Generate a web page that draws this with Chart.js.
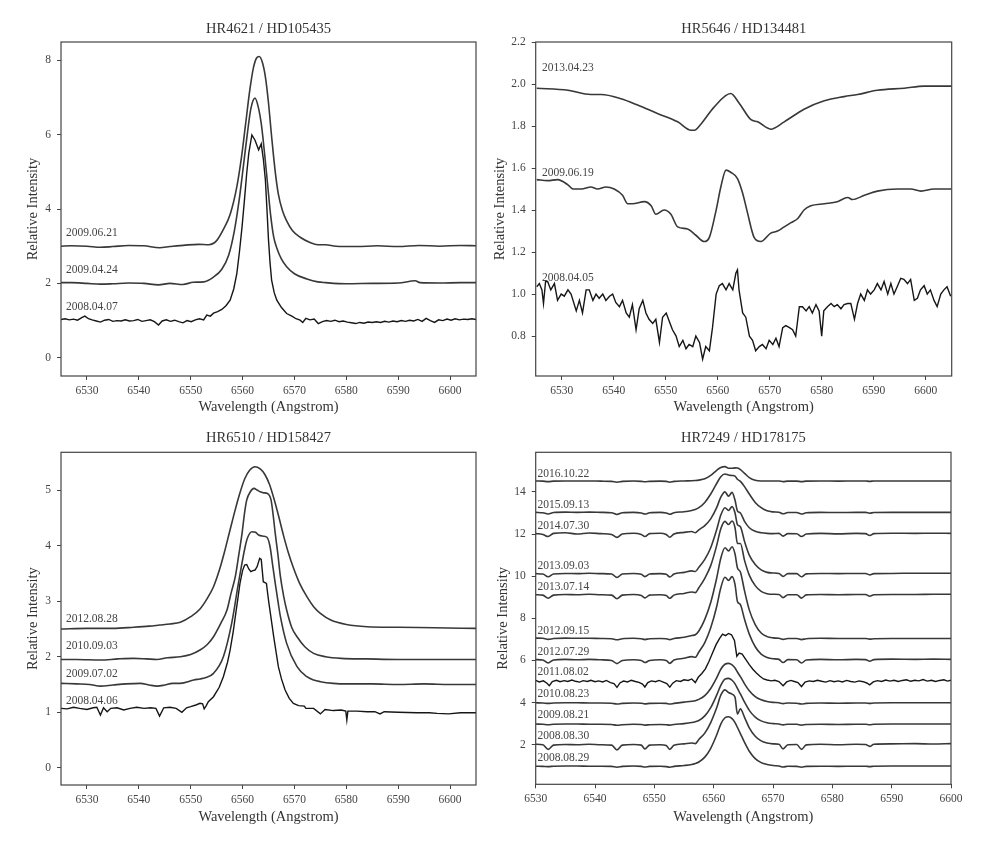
<!DOCTYPE html>
<html>
<head>
<meta charset="utf-8">
<script src="https://cdn.jsdelivr.net/npm/chart.js@4.4.1/dist/chart.umd.min.js"></script>
<style>
    html, body { margin: 0; padding: 0; background: #fff; }
    #wrap { position: relative; width: 983px; height: 848px; overflow: hidden; background: #fff; }
    canvas { position: absolute; }
</style>
</head>
<body>
<div id="wrap">
    <canvas id="hr4621" width="490" height="420" style="left:0px;top:0px"></canvas>
    <canvas id="hr5646" width="493" height="420" style="left:490px;top:0px"></canvas>
    <canvas id="hr6510" width="490" height="428" style="left:0px;top:420px"></canvas>
    <canvas id="hr7249" width="493" height="428" style="left:490px;top:420px"></canvas>
</div>
<script>
// =======================
// DATA
// =======================

// --- HR4621 / HD105435 ---
const p1Wave090621 = [6525, 6527, 6530, 6532.6, 6535, 6538, 6541, 6544, 6546, 6549,
    6551.5, 6553.5, 6555.0, 6556.3, 6557.6, 6558.9, 6559.8, 6560.6, 6561.4, 6562.1,
    6562.7, 6563.2, 6563.8, 6564.4, 6565.0, 6565.6, 6566.3, 6566.9, 6567.7, 6568.5,
    6569.6, 6571.1, 6573.0, 6574.5, 6576, 6578, 6582, 6586, 6590, 6594,
    6598, 6602, 6605];
const p1Flux090621 = [3.00, 3.01, 3.00, 2.97, 2.99, 3.02, 3.01, 2.96, 2.99, 3.03,
    3.05, 3.04, 3.15, 3.45, 3.85, 4.60, 5.40, 6.30, 7.20, 7.80,
    8.06, 8.10, 7.95, 7.55, 6.85, 5.95, 5.00, 4.40, 3.95, 3.68,
    3.42, 3.24, 3.10, 3.04, 3.04, 3.00, 2.99, 3.01, 2.99, 3.02,
    3.00, 3.02, 3.01];

const p1Wave090424 = [6525, 6527, 6530, 6532.6, 6535, 6538, 6541, 6543.8, 6546, 6548.5,
    6550.5, 6552.5, 6554.4, 6556, 6557.3, 6558.4, 6559.4, 6560.2, 6560.9, 6561.6,
    6562.4, 6563.1, 6563.6, 6564.2, 6564.8, 6565.4, 6566.0, 6566.6, 6567.5, 6568.5,
    6570, 6572.4, 6574.5, 6576, 6580, 6585, 6590, 6593.3, 6594.2, 6598,
    6602, 6605];
const p1Flux090424 = [2.02, 2.02, 2.00, 1.98, 1.99, 2.01, 2.00, 1.96, 2.00, 1.97,
    2.03, 2.04, 2.17, 2.38, 2.75, 3.40, 4.30, 5.20, 6.00, 6.70,
    6.98, 6.70, 6.30, 5.55, 4.70, 3.85, 3.25, 2.95, 2.65, 2.45,
    2.26, 2.12, 2.04, 2.02, 1.99, 2.00, 2.01, 2.07, 2.02, 2.01,
    2.02, 2.02];

const p1Wave080407 = [6525, 6525.8, 6526.6, 6527.4, 6528.2, 6529.0, 6529.6, 6530.3, 6531.0, 6531.8,
    6532.6, 6533.4, 6534.2, 6535.0, 6535.8, 6536.6, 6537.4, 6538.2, 6539.0, 6539.8,
    6540.6, 6541.4, 6542.2, 6543.0, 6543.8, 6544.5, 6545.3, 6546.1, 6546.9, 6547.7,
    6548.5, 6549.3, 6550.1, 6550.9, 6551.7, 6552.5, 6553.1, 6553.8, 6554.4, 6555.2,
    6556.0, 6556.8, 6557.6, 6558.3, 6558.9, 6559.4, 6559.9, 6560.4, 6560.8, 6561.2,
    6561.8, 6562.4, 6563.1, 6563.6, 6564.0, 6564.4, 6564.7, 6565.0, 6565.3, 6565.6,
    6566.1, 6566.6, 6567.5, 6568.5, 6569.5, 6570.3, 6571.1, 6571.6, 6572.2, 6573.0,
    6573.8, 6574.6, 6575.4, 6576.2, 6577.0, 6577.8, 6578.6, 6579.4, 6580.2, 6581.0,
    6581.8, 6582.6, 6583.4, 6584.2, 6585.0, 6585.8, 6586.6, 6587.4, 6588.2, 6589.0,
    6589.8, 6590.6, 6591.4, 6592.2, 6593.0, 6593.8, 6594.6, 6595.4, 6596.2, 6597.0,
    6597.8, 6598.6, 6599.4, 6600.2, 6601.0, 6601.8, 6602.6, 6603.4, 6604.2, 6605.0];
const p1Flux080407 = [1.03, 1.05, 1.02, 1.04, 1.01, 1.08, 1.12, 1.05, 1.02, 0.99,
    0.96, 1.01, 1.03, 0.98, 1.00, 0.99, 1.02, 0.99, 1.00, 1.03,
    0.98, 1.00, 1.02, 0.97, 0.88, 0.99, 1.02, 0.98, 1.01, 0.97,
    0.94, 1.00, 0.97, 1.02, 1.05, 1.02, 1.15, 1.12, 1.20, 1.24,
    1.30, 1.40, 1.55, 1.85, 2.27, 2.85, 3.52, 4.30, 4.96, 5.50,
    5.99, 5.85, 5.59, 5.75, 5.35, 4.78, 4.00, 3.17, 2.55, 2.09,
    1.75, 1.55, 1.35, 1.19, 1.12, 1.05, 1.01, 0.95, 1.06, 1.02,
    1.04, 0.92, 0.97, 1.00, 0.98, 1.01, 0.97, 0.99, 0.96, 0.94,
    0.92, 0.95, 0.93, 0.96, 0.95, 0.97, 0.95, 0.98, 0.96, 0.99,
    0.97, 1.00, 0.98, 1.01, 0.99, 1.03, 0.98, 1.06, 1.00, 0.95,
    1.02, 1.00, 1.04, 1.01, 1.05, 1.02, 1.04, 1.03, 1.05, 1.03];

const p1Dates = ['2009.06.21', '2009.04.24', '2008.04.07'];
const p1DateY = [3.35, 2.36, 1.37];
const p1YTicks = [0, 2, 4, 6, 8];

// --- HR5646 / HD134481 ---
const p2Wave130423 = [6525.2, 6531.2, 6535.6, 6537.6, 6541.4, 6544.6, 6548.4, 6552.3, 6554.9, 6555.5,
    6556.8, 6559.3, 6562.5, 6564.1, 6566.4, 6567.7, 6570.2, 6572.8, 6576.6, 6580.5,
    6584.3, 6586.9, 6590.7, 6595.9, 6599.7, 6605];
const p2Flux130423 = [1.98, 1.97, 1.95, 1.95, 1.93, 1.90, 1.86, 1.82, 1.78, 1.78,
    1.81, 1.89, 1.955, 1.91, 1.83, 1.82, 1.785, 1.82, 1.88, 1.92,
    1.94, 1.95, 1.97, 1.98, 1.99, 1.99];

const p2Wave090619 = [6525.2, 6527.3, 6529.2, 6531.2, 6532.2, 6533.8, 6535.6, 6536.9, 6538.5, 6540.1,
    6541.7, 6542.7, 6543.6, 6545.9, 6547.2, 6548.1, 6549.7, 6551.0, 6552.3, 6554.2,
    6555.8, 6557.4, 6558.4, 6559.7, 6560.6, 6561.6, 6562.5, 6563.8, 6564.8, 6565.7,
    6567.0, 6568.3, 6570.2, 6571.5, 6572.8, 6574.1, 6575.4, 6576.6, 6577.9, 6580.5,
    6583.0, 6585.0, 6585.9, 6588.2, 6590.7, 6594.6, 6597.1, 6599.1, 6601.6, 6605];
const p2Flux090619 = [1.545, 1.54, 1.545, 1.52, 1.50, 1.50, 1.51, 1.50, 1.51, 1.50,
    1.47, 1.43, 1.43, 1.44, 1.42, 1.38, 1.40, 1.38, 1.32, 1.31,
    1.28, 1.25, 1.27, 1.40, 1.51, 1.59, 1.58, 1.55, 1.48, 1.39,
    1.27, 1.25, 1.29, 1.30, 1.32, 1.34, 1.36, 1.40, 1.42, 1.43,
    1.44, 1.46, 1.45, 1.47, 1.49, 1.50, 1.50, 1.49, 1.50, 1.50];

const p2Wave080405 = [6525.2, 6525.7, 6526.2, 6526.5, 6526.9, 6527.3, 6527.9, 6528.6, 6529.2, 6529.9,
    6530.5, 6531.2, 6531.8, 6532.8, 6533.4, 6534.0, 6534.7, 6535.3, 6536.0, 6536.6,
    6537.2, 6537.9, 6538.5, 6539.2, 6539.8, 6540.4, 6541.1, 6541.7, 6542.4, 6543.0,
    6543.6, 6544.3, 6544.9, 6545.6, 6546.2, 6546.8, 6547.5, 6548.1, 6548.8, 6549.4,
    6550.1, 6550.7, 6551.3, 6552.0, 6552.6, 6553.3, 6553.9, 6554.5, 6555.2, 6555.8,
    6556.5, 6557.1, 6557.7, 6558.4, 6559.0, 6559.7, 6560.3, 6560.9, 6561.6, 6562.2,
    6562.9, 6563.5, 6563.8, 6564.1, 6564.8, 6565.4, 6566.1, 6566.7, 6567.3, 6568.0,
    6568.6, 6569.3, 6569.9, 6570.6, 6571.2, 6571.8, 6572.5, 6573.1, 6573.8, 6574.4,
    6575.0, 6575.7, 6576.3, 6577.0, 6577.6, 6578.2, 6578.9, 6579.5, 6580.0, 6580.4,
    6581.1, 6581.8, 6582.4, 6583.0, 6583.7, 6584.3, 6585.0, 6585.6, 6586.3, 6586.9,
    6587.5, 6588.2, 6588.8, 6589.4, 6590.1, 6590.7, 6591.4, 6592.0, 6592.7, 6593.3,
    6593.9, 6594.6, 6595.2, 6595.8, 6596.5, 6597.1, 6597.8, 6598.4, 6599.0, 6599.7,
    6600.3, 6600.9, 6601.6, 6602.2, 6602.9, 6603.5, 6604.1, 6604.8];
const p2Flux080405 = [1.035, 1.05, 1.02, 0.955, 1.06, 1.06, 1.02, 1.05, 0.97, 1.00,
    0.99, 1.02, 1.00, 0.92, 0.97, 0.91, 1.02, 1.02, 0.97, 1.00,
    0.98, 1.00, 0.97, 0.99, 1.00, 0.96, 0.94, 0.97, 0.91, 0.89,
    0.95, 0.83, 0.93, 0.97, 0.91, 0.88, 0.86, 0.88, 0.77, 0.89,
    0.91, 0.87, 0.83, 0.80, 0.75, 0.78, 0.74, 0.76, 0.75, 0.80,
    0.77, 0.69, 0.75, 0.73, 0.84, 1.00, 1.04, 1.05, 1.02, 1.05,
    1.02, 1.10, 1.115, 1.02, 0.91, 0.89, 0.80, 0.78, 0.73, 0.75,
    0.76, 0.74, 0.78, 0.76, 0.79, 0.75, 0.84, 0.85, 0.84, 0.83,
    0.80, 0.94, 0.94, 0.92, 0.94, 0.91, 0.95, 0.92, 0.80, 0.92,
    0.94, 0.955, 0.94, 0.95, 0.93, 0.95, 0.955, 0.955, 0.88, 0.955,
    1.00, 0.97, 1.02, 1.00, 1.02, 1.05, 1.02, 1.06, 1.00, 1.05,
    1.00, 1.04, 1.075, 1.07, 1.05, 1.07, 0.97, 0.98, 1.02, 1.04,
    1.00, 1.02, 0.97, 0.94, 1.00, 1.02, 1.035, 0.99];

const p2Dates = ['2013.04.23', '2009.06.19', '2008.04.05'];
const p2DateY = [2.078, 1.577, 1.078];
const p2YTicks = [0.8, 1.0, 1.2, 1.4, 1.6, 1.8, 2.0, 2.2];

// --- HR6510 / HD158427 ---
const p3Wave120828 = [6525, 6530, 6535, 6539, 6542, 6544, 6546, 6548, 6550, 6551.8,
    6553.2, 6554.4, 6555.5, 6556.5, 6557.5, 6558.4, 6559.4, 6560.4, 6561.4, 6562.4,
    6563.4, 6564.3, 6565.2, 6566.0, 6566.9, 6567.9, 6568.8, 6569.8, 6571.0, 6572.4,
    6573.7, 6575.0, 6577.0, 6580.0, 6584.0, 6590.0, 6597.0, 6605.0];
const p3Flux120828 = [2.50, 2.51, 2.51, 2.53, 2.55, 2.57, 2.59, 2.62, 2.72, 2.86,
    3.05, 3.26, 3.55, 3.88, 4.25, 4.58, 4.92, 5.20, 5.36, 5.42,
    5.38, 5.28, 5.10, 4.86, 4.55, 4.18, 3.88, 3.60, 3.32, 3.08,
    2.90, 2.78, 2.66, 2.58, 2.54, 2.53, 2.52, 2.51];

const p3Wave100903 = [6525, 6528, 6532.6, 6536, 6539, 6541.5, 6543.5, 6545.5, 6548, 6550,
    6551.8, 6553.2, 6554.4, 6555.8, 6557.0, 6557.8, 6558.6, 6559.3, 6559.9, 6560.4,
    6560.8, 6561.5, 6562.2, 6562.8, 6563.4, 6564.1, 6564.8, 6565.5, 6565.9, 6566.3,
    6566.8, 6567.3, 6567.9, 6568.5, 6569.5, 6570.5, 6572.0, 6573.7, 6576.0, 6579.0,
    6584, 6590, 6597, 6605];
const p3Flux100903 = [1.95, 1.95, 1.94, 1.96, 1.97, 1.96, 1.95, 1.98, 2.00, 2.04,
    2.12, 2.22, 2.36, 2.60, 2.84, 3.15, 3.44, 3.85, 4.22, 4.60,
    4.82, 4.97, 5.03, 5.00, 4.97, 4.95, 4.94, 4.82, 4.55, 4.22,
    3.85, 3.44, 3.10, 2.84, 2.52, 2.36, 2.18, 2.06, 2.00, 1.97,
    1.96, 1.95, 1.95, 1.95];

const p3Wave090702 = [6525, 6528, 6530.5, 6532.6, 6535, 6537.5, 6540.3, 6542, 6543.5, 6545,
    6546.5, 6548, 6550.6, 6551.8, 6552.8, 6554.4, 6556.3, 6557.9, 6559.2, 6560.5,
    6561.0, 6561.8, 6562.5, 6563.1, 6564.0, 6564.7, 6565.3, 6565.8, 6566.3, 6566.9,
    6567.3, 6568.5, 6570.5, 6572.4, 6573.7, 6575.0, 6577.5, 6580, 6585, 6590,
    6595, 6600, 6605];
const p3Flux090702 = [1.52, 1.51, 1.50, 1.47, 1.49, 1.51, 1.52, 1.49, 1.47, 1.49,
    1.52, 1.52, 1.58, 1.60, 1.62, 1.70, 2.00, 2.60, 3.32, 3.98,
    4.15, 4.25, 4.24, 4.19, 4.17, 4.15, 3.98, 3.65, 3.32, 2.95,
    2.72, 2.24, 1.82, 1.64, 1.58, 1.55, 1.52, 1.51, 1.51, 1.50,
    1.51, 1.50, 1.50];

const p3Wave080406 = [6525, 6526.2, 6527.4, 6528.6, 6530, 6531.2, 6531.9, 6532.6, 6533.2, 6533.9,
    6534.6, 6535.8, 6537.1, 6538.3, 6539.6, 6541, 6542.3, 6543.3, 6544.0, 6544.8,
    6546, 6547.2, 6548.3, 6549.2, 6550, 6551, 6551.8, 6552.3, 6552.6, 6553.0,
    6553.4, 6554.4, 6555.5, 6556.3, 6557.1, 6557.6, 6558.2, 6558.6, 6559.1, 6559.5,
    6560.0, 6560.4, 6560.8, 6561.2, 6561.6, 6562.0, 6562.4, 6562.8, 6563.3, 6563.6,
    6563.8, 6564.0, 6564.4, 6564.6, 6565.0, 6566.0, 6566.9, 6567.5, 6568.2, 6569.0,
    6569.8, 6570.8, 6571.9, 6572.2, 6572.8, 6573.7, 6575.0, 6575.9, 6577.5, 6579,
    6579.9, 6580.1, 6580.3, 6582, 6584, 6585.5, 6586.5, 6587.3, 6590, 6593.6,
    6596, 6597.5, 6599.7, 6602, 6605];
const p3Flux080406 = [1.07, 1.06, 1.09, 1.07, 1.05, 1.08, 1.09, 0.95, 1.08, 1.01,
    1.07, 1.08, 1.04, 1.07, 1.09, 1.07, 1.08, 1.07, 0.93, 1.08,
    1.09, 1.07, 1.00, 1.08, 1.10, 1.13, 1.16, 1.15, 1.06, 1.12,
    1.19, 1.28, 1.45, 1.64, 1.90, 2.12, 2.45, 2.72, 3.05, 3.32,
    3.55, 3.65, 3.66, 3.58, 3.53, 3.55, 3.56, 3.62, 3.77, 3.75,
    3.55, 3.35, 3.33, 3.32, 3.02, 2.36, 1.82, 1.60, 1.40, 1.25,
    1.16, 1.12, 1.11, 1.07, 1.07, 1.07, 0.97, 1.05, 1.03, 1.04,
    1.02, 0.86, 1.02, 1.02, 1.01, 1.01, 0.97, 1.01, 1.00, 0.99,
    0.99, 0.98, 0.97, 0.99, 0.99];

const p3Dates = ['2012.08.28', '2010.09.03', '2009.07.02', '2008.04.06'];
const p3DateY = [2.68, 2.2, 1.68, 1.2];
const p3YTicks = [0, 1, 2, 3, 4, 5];

// --- HR7249 / HD178175 --- (shared wavelength grid)
const p4Wave = [6530, 6531.2, 6532.1, 6533, 6535, 6537, 6539, 6541, 6542.8, 6543.7,
    6544.6, 6546.5, 6547.8, 6548.4, 6549.2, 6551, 6552, 6552.6, 6553.3, 6555,
    6556.3, 6556.9, 6557.5, 6558.5, 6559.5, 6560.5, 6561.2, 6561.9, 6562.5, 6563.1,
    6563.6, 6564, 6564.5, 6565.2, 6566, 6567, 6568, 6569, 6570, 6571,
    6571.7, 6572.5, 6574, 6574.8, 6575.6, 6578, 6581, 6584, 6585.6, 6586.3,
    6587, 6590, 6594, 6597, 6600];

const p4Flux080829 = [0.98, 0.97, 0.96, 0.98, 0.99, 0.99, 0.98, 0.98, 0.97, 0.93,
    0.97, 0.99, 0.97, 0.94, 0.97, 0.98, 0.96, 0.93, 0.97, 1.01,
    1.06, 1.11, 1.18, 1.41, 1.83, 2.46, 2.98, 3.28, 3.33, 3.24,
    3.05, 2.82, 2.53, 2.11, 1.69, 1.34, 1.15, 1.06, 1.01, 0.99,
    0.94, 0.98, 0.97, 0.93, 0.97, 0.98, 0.97, 0.98, 0.98, 0.96,
    0.98, 0.99, 0.99, 0.99, 0.99];
const p4Flux080830 = [2.02, 2.00, 1.78, 1.98, 2.01, 2.00, 2.02, 2.00, 1.98, 1.75,
    1.98, 2.01, 1.98, 1.80, 1.98, 2.00, 1.96, 1.78, 1.97, 2.04,
    2.08, 2.05, 2.25, 2.55, 3.05, 3.75, 4.35, 4.60, 4.48, 4.40,
    4.25, 3.45, 3.70, 3.30, 2.80, 2.40, 2.18, 2.08, 2.04, 2.02,
    1.80, 2.00, 2.01, 1.78, 1.99, 2.02, 2.00, 2.02, 2.01, 1.92,
    2.02, 2.04, 2.05, 2.03, 2.05];
const p4Flux090821 = [2.98, 2.97, 2.95, 2.97, 2.98, 2.98, 2.97, 2.97, 2.96, 2.92,
    2.95, 2.97, 2.96, 2.93, 2.95, 2.96, 2.95, 2.93, 2.96, 3.00,
    3.05, 3.09, 3.15, 3.37, 3.76, 4.35, 4.82, 5.11, 5.15, 5.06,
    4.89, 4.67, 4.41, 4.02, 3.63, 3.31, 3.13, 3.04, 3.00, 2.98,
    2.94, 2.97, 2.97, 2.93, 2.96, 2.97, 2.96, 2.97, 2.97, 2.95,
    2.97, 2.98, 2.98, 2.98, 2.98];
const p4Flux100823 = [3.99, 3.98, 3.96, 3.98, 3.99, 3.99, 3.98, 3.98, 3.97, 3.93,
    3.96, 3.98, 3.97, 3.94, 3.96, 3.97, 3.96, 3.93, 3.96, 4.02,
    4.06, 4.09, 4.15, 4.33, 4.67, 5.17, 5.58, 5.82, 5.86, 5.79,
    5.64, 5.45, 5.23, 4.89, 4.56, 4.28, 4.13, 4.05, 4.01, 3.99,
    3.95, 3.98, 3.97, 3.93, 3.96, 3.98, 3.97, 3.98, 3.98, 3.96,
    3.98, 3.99, 3.99, 3.99, 3.99];
const p4Flux120729 = [6.04, 6.02, 5.88, 6.02, 6.05, 6.03, 6.05, 6.03, 6.00, 5.85,
    6.00, 6.03, 6.00, 5.90, 6.00, 6.03, 6.00, 5.86, 6.02, 6.10,
    6.18, 6.15, 6.40, 6.85, 7.55, 8.55, 9.45, 9.95, 9.80, 9.98,
    9.60, 8.80, 8.65, 7.95, 7.25, 6.65, 6.30, 6.14, 6.08, 6.05,
    5.90, 6.04, 6.03, 5.88, 6.02, 6.05, 6.03, 6.05, 6.04, 5.96,
    6.04, 6.06, 6.05, 6.06, 6.05];
const p4Flux120915 = [7.06, 7.05, 7.00, 7.04, 7.06, 7.05, 7.05, 7.04, 7.03, 6.98,
    7.03, 7.05, 7.03, 6.99, 7.03, 7.04, 7.03, 6.99, 7.04, 7.10,
    7.18, 7.22, 7.40, 7.95, 8.75, 9.90, 10.85, 11.35, 11.20, 11.40,
    11.05, 10.40, 10.20, 9.30, 8.40, 7.70, 7.30, 7.13, 7.07, 7.05,
    7.00, 7.04, 7.04, 6.99, 7.03, 7.05, 7.04, 7.04, 7.04, 7.01,
    7.03, 7.04, 7.04, 7.04, 7.04];
const p4Flux130714 = [9.12, 9.10, 8.95, 9.10, 9.13, 9.12, 9.14, 9.12, 9.10, 8.93,
    9.10, 9.13, 9.08, 8.97, 9.10, 9.12, 9.08, 8.95, 9.10, 9.18,
    9.25, 9.22, 9.45, 9.90, 10.50, 11.45, 12.25, 12.60, 12.45, 12.62,
    12.30, 11.55, 11.55, 10.75, 10.05, 9.55, 9.28, 9.17, 9.14, 9.13,
    8.98, 9.12, 9.12, 8.96, 9.11, 9.13, 9.12, 9.13, 9.13, 9.05,
    9.12, 9.13, 9.13, 9.14, 9.14];
const p4Flux130903 = [10.12, 10.10, 9.97, 10.10, 10.13, 10.12, 10.14, 10.12, 10.10, 9.94,
    10.10, 10.13, 10.09, 9.98, 10.10, 10.12, 10.09, 9.96, 10.10, 10.18,
    10.25, 10.22, 10.42, 10.80, 11.35, 12.20, 12.90, 13.25, 13.12, 13.30,
    13.00, 12.45, 12.35, 11.65, 11.00, 10.55, 10.30, 10.18, 10.15, 10.13,
    9.99, 10.12, 10.12, 9.97, 10.11, 10.13, 10.12, 10.13, 10.13, 10.06,
    10.12, 10.13, 10.14, 10.14, 10.14];
const p4Flux140730 = [12.02, 11.98, 11.88, 12.03, 12.06, 12.00, 12.05, 12.02, 11.98, 11.84,
    12.00, 12.04, 11.98, 11.88, 12.02, 12.04, 11.98, 11.85, 12.00, 12.08,
    12.12, 12.06, 12.20, 12.40, 12.72, 13.25, 13.75, 14.00, 13.80, 13.98,
    13.60, 13.10, 13.00, 12.60, 12.30, 12.13, 12.06, 12.03, 12.02, 12.03,
    11.90, 12.02, 12.01, 11.88, 12.00, 12.03, 12.01, 12.03, 12.02, 11.93,
    12.02, 12.04, 12.03, 12.04, 12.03];
const p4Flux150913 = [13.03, 13.01, 12.95, 13.02, 13.04, 13.03, 13.04, 13.03, 13.01, 12.93,
    13.01, 13.03, 13.00, 12.95, 13.01, 13.03, 13.00, 12.94, 13.01, 13.06,
    13.12, 13.16, 13.25, 13.50, 13.90, 14.40, 14.72, 14.85, 14.80, 14.78,
    14.75, 14.60, 14.50, 14.25, 13.90, 13.50, 13.25, 13.10, 13.05, 13.03,
    12.96, 13.02, 13.02, 12.95, 13.01, 13.03, 13.02, 13.03, 13.03, 12.99,
    13.02, 13.03, 13.03, 13.03, 13.03];
const p4Flux161022 = [14.52, 14.51, 14.49, 14.51, 14.52, 14.52, 14.52, 14.51, 14.50, 14.46,
    14.50, 14.52, 14.50, 14.48, 14.50, 14.51, 14.50, 14.46, 14.50, 14.52,
    14.53, 14.54, 14.56, 14.62, 14.78, 15.02, 15.16, 15.20, 15.12, 15.12,
    15.14, 15.13, 15.06, 14.88, 14.68, 14.55, 14.52, 14.52, 14.52, 14.52,
    14.49, 14.51, 14.51, 14.49, 14.51, 14.52, 14.51, 14.52, 14.52, 14.50,
    14.52, 14.52, 14.52, 14.52, 14.52];

// the noisy 2011 spectrum has its own, denser grid
const p4Wave110802 = [6530, 6530.6, 6531.3, 6531.9, 6532.3, 6532.8, 6533.5, 6534.1, 6534.8, 6535.4,
    6536.1, 6536.7, 6537.4, 6538.0, 6538.7, 6539.3, 6540.0, 6540.6, 6541.3, 6541.9,
    6542.6, 6543.2, 6543.7, 6544.2, 6544.8, 6545.5, 6546.1, 6546.8, 6547.4, 6548.0,
    6548.4, 6548.9, 6549.5, 6550.2, 6550.8, 6551.5, 6552.1, 6552.6, 6553.1, 6553.7,
    6554.4, 6555.0, 6555.7, 6556.3, 6556.9, 6557.4, 6558.0, 6558.6, 6559.2, 6559.8,
    6560.4, 6561.0, 6561.5, 6562.0, 6562.5, 6563.0, 6563.5, 6563.9, 6564.3, 6564.8,
    6565.4, 6566.0, 6566.6, 6567.2, 6567.8, 6568.4, 6569.0, 6569.7, 6570.3, 6571.0,
    6571.7, 6572.3, 6573.0, 6573.6, 6574.2, 6574.8, 6575.4, 6576.1, 6576.8, 6577.5,
    6578.2, 6578.9, 6579.6, 6580.3, 6581.0, 6581.7, 6582.4, 6583.1, 6583.8, 6584.5,
    6585.2, 6585.8, 6586.3, 6586.9, 6587.6, 6588.3, 6589.0, 6589.7, 6590.4, 6591.1,
    6591.8, 6592.5, 6593.2, 6593.9, 6594.6, 6595.3, 6596.0, 6596.7, 6597.4, 6598.1,
    6598.8, 6599.4, 6600.0];
const p4Flux110802 = [5.05, 4.98, 5.03, 4.92, 4.80, 5.00, 5.06, 4.99, 5.04, 5.00,
    5.07, 5.01, 4.97, 5.04, 5.00, 5.06, 4.99, 5.03, 4.98, 5.05,
    4.95, 4.90, 4.72, 4.93, 5.02, 4.98, 5.06, 5.00, 4.96, 4.88,
    4.74, 4.95, 5.03, 4.99, 5.05, 4.97, 4.90, 4.73, 4.92, 5.04,
    5.00, 5.08, 5.05, 5.12, 4.95, 5.20, 5.38, 5.60, 5.95, 6.35,
    6.75, 7.05, 7.25, 7.18, 7.28, 7.22, 6.95, 6.20, 6.35, 6.30,
    6.05, 5.80, 5.58, 5.40, 5.25, 5.12, 5.07, 5.03, 5.06, 5.00,
    4.80, 4.98, 5.05, 5.00, 4.95, 4.76, 4.97, 5.03, 5.00, 5.06,
    5.01, 4.97, 5.04, 4.99, 5.03, 4.98, 5.05, 5.00, 4.97, 5.03,
    4.99, 4.93, 4.84, 4.98, 5.04, 5.00, 5.07, 5.02, 5.06, 5.00,
    5.05, 5.08, 5.01, 5.06, 5.03, 5.09, 5.02, 5.06, 5.00, 5.05,
    5.08, 5.02, 5.06];

const p4Dates = ['2016.10.22', '2015.09.13', '2014.07.30', '2013.09.03', '2013.07.14', '2012.09.15',
    '2012.07.29', '2011.08.02', '2010.08.23', '2009.08.21', '2008.08.30', '2008.08.29'];
const p4DateY = [14.85, 13.38, 12.39, 10.5, 9.5, 7.4, 6.42, 5.44, 4.39, 3.41, 2.41, 1.35];
const p4YTicks = [2, 4, 6, 8, 10, 12, 14];

const waveTicks = [6530, 6540, 6550, 6560, 6570, 6580, 6590, 6600];

// =======================
// HELPERS
// =======================
const SERIF = '"Liberation Serif", "DejaVu Serif", serif';
const INK = '#383838';

function toPoints(xs, ys) {
    return xs.map((x, i) => ({ x: x, y: ys[i] }));
}

// frame on all four sides + date labels written inside the axes
const framePlugin = {
    id: 'specFrame',
    afterDatasetsDraw(chart, args, opts) {
        const { ctx, chartArea: a, scales } = chart;
        ctx.save();
        ctx.strokeStyle = '#444';
        ctx.lineWidth = 1.2;
        ctx.strokeRect(a.left, a.top, a.right - a.left, a.bottom - a.top);
        ctx.fillStyle = '#444';
        ctx.font = '11.5px ' + SERIF;
        ctx.textBaseline = 'middle';
        ctx.textAlign = 'left';
        (opts.texts || []).forEach((t, i) => {
            ctx.fillText(t, scales.x.getPixelForValue(opts.x), scales.y.getPixelForValue(opts.ys[i]));
        });
        ctx.restore();
    }
};

function buildPanel(id, cfg) {
    const tickFont = { family: SERIF, size: 11.5 };
    const titleFont = { family: SERIF, size: 14.5, weight: 'normal', lineHeight: 1.2 };
    return new Chart(document.getElementById(id), {
        type: 'line',
        data: {
            datasets: cfg.series.map(s => ({
                data: toPoints(s.wave, s.flux),
                borderColor: s.noisy ? '#161616' : INK,
                borderWidth: s.noisy ? 1.4 : 1.6,
                pointRadius: 0,
                fill: false,
                tension: 0,
                cubicInterpolationMode: s.noisy ? 'default' : 'monotone'
            }))
        },
        options: {
            responsive: false,
            animation: false,
            devicePixelRatio: 1,
            layout: { padding: { left: 0, top: 0, right: cfg.padRight, bottom: 0 } },
            plugins: {
                legend: { display: false },
                tooltip: { enabled: false },
                title: {
                    display: true,
                    text: cfg.title,
                    fullSize: false,
                    color: '#333',
                    font: titleFont,
                    padding: cfg.titlePad
                },
                specFrame: { texts: cfg.dates, ys: cfg.dateY, x: cfg.dateX }
            },
            scales: {
                x: {
                    type: 'linear',
                    min: cfg.xMin,
                    max: cfg.xMax,
                    afterFit: s => { s.height = cfg.xAxisHeight; },
                    afterBuildTicks: s => { s.ticks = waveTicks.map(v => ({ value: v })); },
                    ticks: { font: tickFont, color: '#444', padding: 4, autoSkip: false, maxRotation: 0,
                        callback: v => String(v) },
                    grid: { drawOnChartArea: false, drawTicks: true, tickLength: 4, color: '#444' },
                    border: { display: false },
                    title: { display: true, text: 'Wavelength (Angstrom)', color: '#333', font: titleFont,
                        padding: { top: 0, bottom: cfg.xTitlePad } }
                },
                y: {
                    type: 'linear',
                    min: cfg.yMin,
                    max: cfg.yMax,
                    afterFit: s => { s.width = cfg.yAxisWidth; },
                    afterBuildTicks: s => { s.ticks = cfg.yTicks.map(v => ({ value: v })); },
                    ticks: { font: tickFont, color: '#444', padding: 6, autoSkip: false,
                        callback: v => cfg.yDecimals ? v.toFixed(cfg.yDecimals) : String(v) },
                    grid: { drawOnChartArea: false, drawTicks: true, tickLength: 4, color: '#444' },
                    border: { display: false },
                    title: { display: true, text: 'Relative Intensity', color: '#333', font: titleFont,
                        padding: { top: cfg.yTitlePad, bottom: 0 } }
                }
            }
        },
        plugins: [framePlugin]
    });
}

// =======================
// PANELS
// =======================
buildPanel('hr4621', {
    title: 'HR4621 / HD105435',
    series: [
        { wave: p1Wave090621, flux: p1Flux090621 },
        { wave: p1Wave090424, flux: p1Flux090424 },
        { wave: p1Wave080407, flux: p1Flux080407, noisy: true }
    ],
    dates: p1Dates, dateY: p1DateY, dateX: 6525.95,
    xMin: 6525, xMax: 6605, yMin: -0.49, yMax: 8.49, yTicks: p1YTicks,
    padRight: 14, yAxisWidth: 61, xAxisHeight: 44,
    titlePad: { top: 20.3, bottom: 4.3 }, xTitlePad: 4.3, yTitlePad: 24.3
});

buildPanel('hr5646', {
    title: 'HR5646 / HD134481',
    series: [
        { wave: p2Wave130423, flux: p2Flux130423 },
        { wave: p2Wave090619, flux: p2Flux090619 },
        { wave: p2Wave080405, flux: p2Flux080405, noisy: true }
    ],
    dates: p2Dates, dateY: p2DateY, dateX: 6526.2,
    xMin: 6525, xMax: 6605, yMin: 0.61, yMax: 2.2, yTicks: p2YTicks, yDecimals: 1,
    padRight: 31.3, yAxisWidth: 45.7, xAxisHeight: 44,
    titlePad: { top: 20.3, bottom: 4.3 }, xTitlePad: 4.3, yTitlePad: 1.3
});

buildPanel('hr6510', {
    title: 'HR6510 / HD158427',
    series: [
        { wave: p3Wave120828, flux: p3Flux120828 },
        { wave: p3Wave100903, flux: p3Flux100903 },
        { wave: p3Wave090702, flux: p3Flux090702 },
        { wave: p3Wave080406, flux: p3Flux080406, noisy: true }
    ],
    dates: p3Dates, dateY: p3DateY, dateX: 6525.95,
    xMin: 6525, xMax: 6605, yMin: -0.31, yMax: 5.68, yTicks: p3YTicks,
    padRight: 14, yAxisWidth: 61, xAxisHeight: 63,
    titlePad: { top: 9.6, bottom: 5.3 }, xTitlePad: 22, yTitlePad: 24.3
});

buildPanel('hr7249', {
    title: 'HR7249 / HD178175',
    series: [
        { wave: p4Wave, flux: p4Flux161022 },
        { wave: p4Wave, flux: p4Flux150913 },
        { wave: p4Wave, flux: p4Flux140730 },
        { wave: p4Wave, flux: p4Flux130903 },
        { wave: p4Wave, flux: p4Flux130714 },
        { wave: p4Wave, flux: p4Flux120915 },
        { wave: p4Wave, flux: p4Flux120729 },
        { wave: p4Wave110802, flux: p4Flux110802, noisy: true },
        { wave: p4Wave, flux: p4Flux100823 },
        { wave: p4Wave, flux: p4Flux090821 },
        { wave: p4Wave, flux: p4Flux080830 },
        { wave: p4Wave, flux: p4Flux080829 }
    ],
    dates: p4Dates, dateY: p4DateY, dateX: 6530.3,
    xMin: 6530, xMax: 6600, yMin: 0.12, yMax: 15.88, yTicks: p4YTicks,
    padRight: 32, yAxisWidth: 45.7, xAxisHeight: 63.7,
    titlePad: { top: 9.6, bottom: 5.3 }, xTitlePad: 22, yTitlePad: 4.6
});
</script>
</body>
</html>
